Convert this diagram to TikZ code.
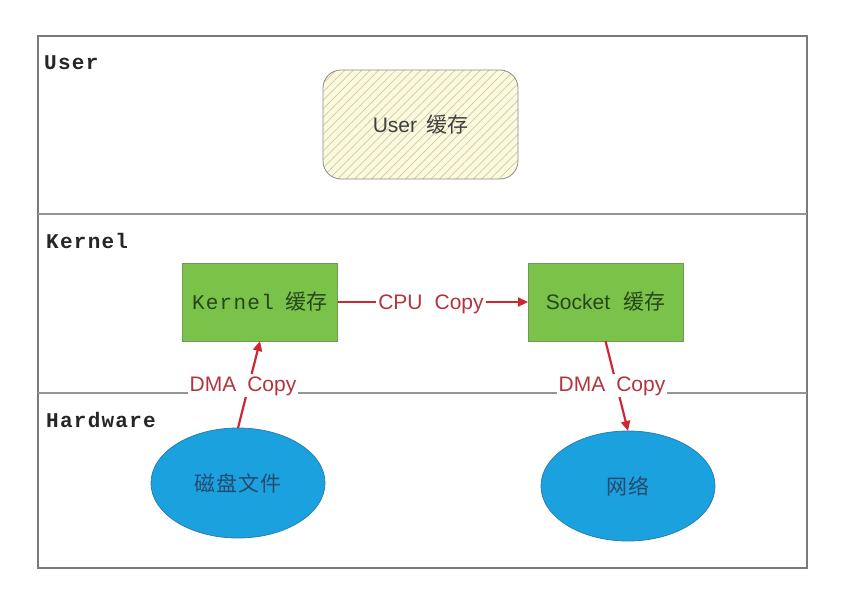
\documentclass[tikz,border=0pt]{standalone}
\usepackage{fontspec}
\setmainfont{Liberation Sans}
\newfontfamily\cjk{Noto Sans CJK SC}
\newfontfamily\cjksp{Noto Sans CJK SC}[LetterSpace=6]
\newfontfamily\monof{Liberation Mono}
\newfontfamily\monosp{Liberation Mono}[LetterSpace=6]
\usetikzlibrary{arrows.meta,patterns.meta,shapes.geometric}
\definecolor{framecol}{HTML}{7A7A7A}
\definecolor{usercol}{HTML}{FBFAE0}
\definecolor{hatchcol}{HTML}{CFC99A}
\definecolor{greencol}{HTML}{7BC24A}
\definecolor{greenedge}{HTML}{6E9A55}
\definecolor{greentext}{HTML}{26461A}
\definecolor{bluecol}{HTML}{1BA1DE}
\definecolor{blueedge}{HTML}{2A7FB0}
\definecolor{bluetext}{HTML}{264A6E}
\definecolor{arrowcol}{HTML}{CF2633}
\definecolor{labelcol}{HTML}{B0353F}
\begin{document}
\begin{tikzpicture}[x=1pt,y=-1pt,
  framestyle/.style={draw=framecol,line width=1.4pt},
  seclabel/.style={anchor=base west,inner sep=0pt,font=\monosp\bfseries\fontsize{21}{24}\selectfont,text=black!85},
  userbox/.style={draw=black!45,line width=0.8pt,rounded corners=18pt,minimum width=195pt,minimum height=109pt,inner sep=0pt,outer sep=0pt,
    preaction={fill=usercol},pattern={Lines[angle=45,distance=6pt,line width=0.7pt]},pattern color=hatchcol},
  greenbox/.style={draw=greenedge,line width=0.8pt,fill=greencol,minimum width=155pt,minimum height=78pt,inner sep=0pt,outer sep=0pt,text=greentext},
  blueell/.style={ellipse,draw=blueedge,line width=0.8pt,fill=bluecol,minimum width=174pt,minimum height=110pt,inner sep=0pt,outer sep=0pt,text=bluetext,font=\cjksp\fontsize{21}{24}\selectfont},
  redarrow/.style={draw=arrowcol,line width=2.2pt,-{Triangle[length=10pt,width=9pt]}},
  lbl/.style={fill=white,inner xsep=2pt,inner ysep=2pt,text=labelcol,font=\fontsize{21}{24}\selectfont,anchor=base}
]
\useasboundingbox (0,0) rectangle (850,610);
\fill[white] (0,0) rectangle (850,610);

% frame and layer separators
\coordinate (tl) at (38,36);
\coordinate (br) at (807,568);
\coordinate (s1l) at (38,214);
\coordinate (s1r) at (807,214);
\coordinate (s2l) at (38,393);
\coordinate (s2r) at (807,393);
\draw[framestyle] (tl) rectangle (br);
\draw[draw=framecol!80,line width=1.2pt] (s1l) -- (s1r);
\draw[draw=framecol!80,line width=1.2pt] (s2l) -- (s2r);

% layer labels
\node[seclabel] (luser) at (44,70) {User};
\node[seclabel] (lkernel) at (46,248) {Kernel};
\node[seclabel] (lhw) at (46,427) {Hardware};

% boxes
\node[userbox,text=black!75,font=\fontsize{21}{24}\selectfont] (user) at (420.5,124.5) {User\hspace{9pt}{\cjk 缓存}};
\node[greenbox] (kernel) at (260,302) {{\monosp\fontsize{21}{24}\selectfont Kernel}\hspace{12pt}{\cjk\fontsize{21}{24}\selectfont 缓存}};
\node[greenbox,font=\fontsize{21}{24}\selectfont] (socket) at (605.5,302) {Socket\hspace{13pt}{\cjk 缓存}};

% ellipses
\node[blueell] (disk) at (238,483) {磁盘文件};
\node[blueell] (net) at (628,486) {网络};

% connectors
\draw[redarrow] (kernel) -- (socket);
\draw[redarrow] (disk.north) -- (kernel.south);
\draw[redarrow] (socket.south) -- (net.north);

% connector labels
\node[lbl] (lcpu) at (431,309) {CPU\hspace{12pt}Copy};
\node[lbl] (ldma1) at (243,391) {DMA\hspace{11pt}Copy};
\node[lbl] (ldma2) at (612,391) {DMA\hspace{11pt}Copy};
\end{tikzpicture}
\end{document}
